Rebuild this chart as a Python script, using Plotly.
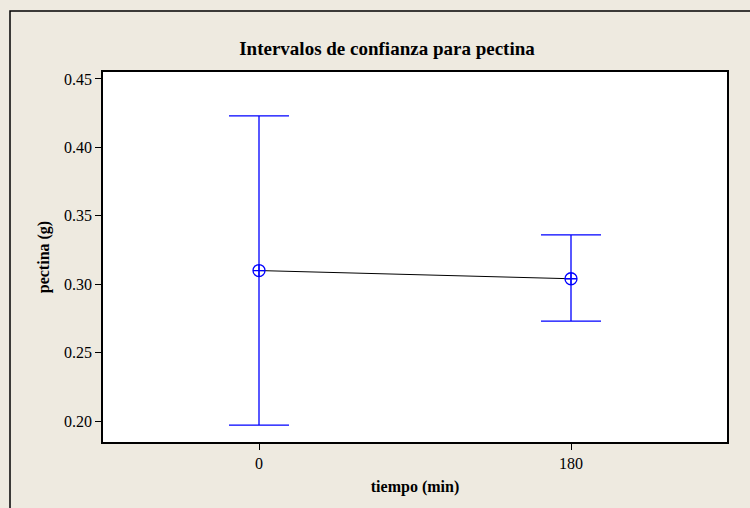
import plotly.graph_objects as go

tiempo = ["0", "180"]
media = [0.310, 0.304]
superior = [0.423, 0.336]
inferior = [0.197, 0.273]

err_plus = [s - m for s, m in zip(superior, media)]
err_minus = [m - i for m, i in zip(media, inferior)]

bg = "#EEEAE0"
font_family = "Liberation Serif, Times New Roman, serif"

fig = go.Figure()
fig.add_trace(go.Scatter(
    x=tiempo, y=media,
    mode="lines+markers",
    line=dict(color="black", width=1),
    marker=dict(symbol="circle-cross-open", size=12, color="#0000FF",
                line=dict(color="#0000FF", width=1.3)),
    error_y=dict(type="data", symmetric=False, array=err_plus, arrayminus=err_minus,
                 color="#0000FF", thickness=1.3, width=30),
    showlegend=False,
))

fig.update_layout(
    width=750, height=508,
    paper_bgcolor=bg, plot_bgcolor="white",
    margin=dict(l=103, r=23, t=72, b=66),
    font=dict(family=font_family, size=16, color="black"),
    title=dict(text="<b>Intervalos de confianza para pectina</b>",
               x=387/750, xanchor="center", y=1 - 48/508, yanchor="middle",
               font=dict(size=19, family=font_family, color="black")),
    xaxis=dict(type="category", range=[-0.5, 1.5], showgrid=False, zeroline=False,
               showline=True, linecolor="black", linewidth=1.5, mirror=True,
               ticks="outside", ticklen=6, tickcolor="black",
               title=dict(text="<b>tiempo (min)</b>", font=dict(size=16), standoff=10)),
    yaxis=dict(range=[0.1847, 0.4551], tickvals=[0.20, 0.25, 0.30, 0.35, 0.40, 0.45],
               tickformat=".2f", showgrid=False, zeroline=False,
               showline=True, linecolor="black", linewidth=1.5, mirror=True,
               ticks="outside", ticklen=6, tickcolor="black",
               title=dict(text="<b>pectina (g)</b>", font=dict(size=16), standoff=10)),
    shapes=[dict(type="rect", xref="paper", yref="paper",
                 x0=(10 - 103) / 624, x1=1.2, y0=-0.4, y1=(442 - 11) / 370,
                 line=dict(color="black", width=1.5), fillcolor="rgba(0,0,0,0)", layer="below")],
)

fig.write_html("out.html")
